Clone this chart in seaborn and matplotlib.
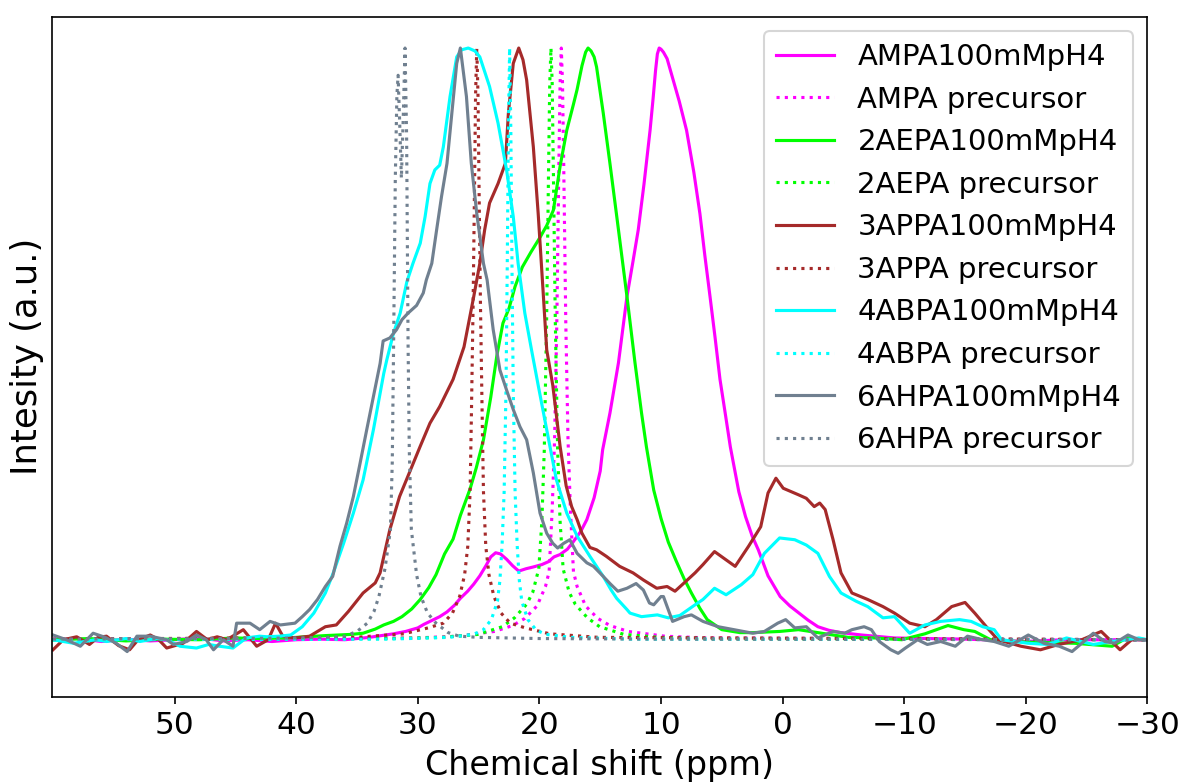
import matplotlib
matplotlib.use("Agg")
import matplotlib.pyplot as plt
import seaborn as sns
import pandas as pd

# ---------------- data (ppm, normalised intensity) ----------------
ampa_solid = [(60.0, 0.0), (58.0, 0.002), (56.0, -0.003), (54.0, 0.001), (52.0, -0.002), (50.0, 0.0),
              (48.0, 0.003), (46.0, -0.002), (44.0, 0.0), (42.0, -0.003), (40.0, 0.0), (38.0, 0.001),
              (36.0, 0.0), (35.0, 0.002), (34.0, 0.004), (33.0, 0.007), (32.0, 0.010), (31.0, 0.014),
              (30.0, 0.02), (29.5, 0.026), (28.9, 0.032), (28.2, 0.039), (27.6, 0.047), (27.0, 0.058),
              (26.5, 0.07), (25.9, 0.082), (25.4, 0.094), (24.9, 0.108), (24.4, 0.125), (24.0, 0.14),
              (23.6, 0.147), (23.2, 0.145), (22.7, 0.136), (22.2, 0.125), (21.7, 0.116), (21.1, 0.12),
              (20.5, 0.123), (19.8, 0.127), (19.25, 0.132), (18.8, 0.14), (18.3, 0.144), (17.7, 0.153),
              (17.2, 0.166), (16.6, 0.183), (16.1, 0.203), (15.5, 0.24), (15.0, 0.285), (14.8, 0.321),
              (14.2, 0.383), (13.5, 0.468), (12.8, 0.58), (12.3, 0.64), (11.87, 0.693), (11.4, 0.77),
              (10.9, 0.861), (10.65, 0.915), (10.45, 0.962), (10.3, 0.99), (10.15, 1.0), (10.0, 0.998),
              (9.8, 0.993), (9.5, 0.982), (9.0, 0.946), (8.5, 0.91), (7.9, 0.861), (7.3, 0.79),
              (6.8, 0.72), (6.4, 0.65), (5.97, 0.58), (5.55, 0.51), (5.15, 0.44), (4.7, 0.38),
              (4.3, 0.326), (3.6, 0.25), (3.05, 0.208), (2.5, 0.175), (2.0, 0.152), (1.2, 0.108),
              (0.2, 0.073), (-0.6, 0.057), (-1.35, 0.045), (-2.1, 0.033), (-2.9, 0.022), (-3.8, 0.016),
              (-4.8, 0.012), (-6.5, 0.008), (-9.2, 0.003), (-12.0, 0.002), (-15.0, 0.001),
              (-18.0, -0.001), (-20.0, -0.003), (-23.0, 0.0), (-26.0, 0.0), (-30.0, 0.0)]

ampa_prec = [(60.0, 0.001), (30.2, 0.003), (26.7, 0.006), (23.7, 0.014), (22.2, 0.024), (21.2, 0.036),
             (20.2, 0.057), (19.5, 0.09), (19.2, 0.115), (18.95, 0.22), (18.75, 0.34), (18.57, 0.535),
             (18.4, 0.8), (18.3, 0.94), (18.2, 1.0), (18.1, 0.94), (18.0, 0.8), (17.83, 0.535),
             (17.65, 0.34), (17.45, 0.22), (17.2, 0.115), (16.9, 0.09), (16.2, 0.057), (15.2, 0.036),
             (14.2, 0.024), (12.7, 0.014), (9.7, 0.006), (6.2, 0.003), (-30.0, 0.0)]

aepa_solid = [(60.0, 0.0), (57.0, 0.002), (54.0, -0.002), (51.0, 0.001), (48.0, 0.0), (45.0, 0.003),
              (43.0, 0.002), (40.8, 0.003), (37.6, 0.007), (35.5, 0.009), (34.5, 0.011), (33.5, 0.018),
              (32.8, 0.025), (32.0, 0.031), (31.3, 0.039), (30.5, 0.052), (29.8, 0.068), (29.1, 0.088),
              (28.5, 0.11), (27.8, 0.145), (27.1, 0.17), (26.5, 0.21), (25.7, 0.255), (25.2, 0.29),
              (24.6, 0.338), (24.0, 0.41), (23.5, 0.48), (23.0, 0.535), (22.5, 0.56), (22.0, 0.597),
              (21.4, 0.63), (20.7, 0.655), (19.95, 0.68), (19.4, 0.70), (18.85, 0.726), (18.6, 0.76),
              (18.3, 0.8), (17.75, 0.861), (17.2, 0.905), (16.9, 0.93), (16.5, 0.97), (16.2, 0.993),
              (16.0, 1.0), (15.75, 0.995), (15.5, 0.985), (15.3, 0.968), (14.75, 0.89), (14.2, 0.805),
              (13.5, 0.693), (12.8, 0.58), (12.14, 0.468), (11.6, 0.383), (11.2, 0.326), (10.6, 0.253),
              (10.0, 0.205), (9.4, 0.165), (8.75, 0.133), (8.1, 0.103), (7.5, 0.079), (6.8, 0.053),
              (6.2, 0.034), (5.0, 0.017), (3.5, 0.012), (2.45, 0.012), (0.25, 0.014), (-1.3, 0.017),
              (-2.9, 0.012), (-5.4, 0.004), (-7.6, 0.003), (-9.8, 0.0), (-11.7, 0.01), (-13.6, 0.024),
              (-14.9, 0.017), (-15.8, 0.014), (-17.1, 0.0), (-20.0, -0.004), (-24.0, -0.006),
              (-27.1, -0.011), (-28.3, 0.003), (-30.0, 0.0)]

aepa_prec = [(60.0, 0.0), (32.05, 0.002), (28.05, 0.004), (25.05, 0.009), (23.05, 0.022), (22.05, 0.037),
             (21.05, 0.06), (20.55, 0.08), (20.05, 0.12), (19.8, 0.2), (19.6, 0.32), (19.41, 0.535),
             (19.25, 0.79), (19.15, 0.94), (19.05, 1.0), (18.95, 0.94), (18.85, 0.79), (18.69, 0.535),
             (18.5, 0.32), (18.3, 0.2), (18.05, 0.12), (17.55, 0.08), (17.05, 0.06), (16.05, 0.037),
             (15.05, 0.022), (13.05, 0.009), (10.05, 0.004), (6.05, 0.002), (-30.0, 0.0)]

appa_solid = [(60.0, -0.017), (59.15, 0.0), (58.05, 0.005), (57.0, -0.008), (56.3, 0.004), (55.6, 0.006),
              (54.6, -0.01), (53.7, -0.017), (53.0, 0.0), (52.0, 0.008), (51.3, 0.0), (50.65, -0.014),
              (49.3, -0.006), (48.2, 0.014), (47.3, 0.0), (46.5, 0.005), (45.7, 0.0), (44.35, 0.017),
              (43.25, -0.011), (42.3, 0.0), (41.7, 0.028), (41.1, 0.006), (40.1, 0.003), (38.9, 0.006),
              (37.6, 0.022), (36.7, 0.025), (35.7, 0.048), (34.5, 0.079), (33.5, 0.096), (33.1, 0.113),
              (32.3, 0.186), (31.5, 0.242), (30.6, 0.287), (29.8, 0.327), (29.0, 0.366), (28.2, 0.394),
              (27.1, 0.44), (26.2, 0.495), (25.4, 0.58), (24.9, 0.636), (24.5, 0.693), (24.1, 0.738),
              (23.4, 0.771), (22.8, 0.805), (22.55, 0.89), (22.15, 0.974), (21.7, 1.0), (21.35, 0.98),
              (21.05, 0.946), (20.5, 0.833), (20.1, 0.72), (19.7, 0.59), (19.4, 0.49), (18.9, 0.43),
              (18.3, 0.327), (17.8, 0.26), (17.35, 0.225), (16.9, 0.203), (16.5, 0.18), (15.85, 0.156),
              (15.3, 0.152), (14.5, 0.141), (13.4, 0.124), (12.3, 0.113), (11.45, 0.101), (10.35, 0.087),
              (9.5, 0.09), (8.85, 0.082), (8.1, 0.096), (7.2, 0.113), (6.55, 0.127), (5.6, 0.149),
              (4.65, 0.135), (3.9, 0.124), (2.8, 0.158), (1.8, 0.191), (1.2, 0.248), (0.55, 0.273),
              (-0.05, 0.256), (-1.3, 0.245), (-1.95, 0.239), (-2.6, 0.225), (-3.05, 0.231), (-3.5, 0.22),
              (-4.15, 0.169), (-4.8, 0.113), (-5.7, 0.079), (-7.0, 0.068), (-8.25, 0.056), (-9.2, 0.045),
              (-10.45, 0.028), (-11.7, 0.022), (-12.65, 0.034), (-13.9, 0.056), (-15.0, 0.063),
              (-15.8, 0.045), (-16.75, 0.022), (-17.7, 0.0), (-19.6, -0.011), (-21.2, -0.017),
              (-22.7, -0.008), (-24.6, 0.0), (-26.2, 0.014), (-27.75, -0.017), (-28.7, 0.0), (-30.0, 0.0)]

appa_prec = [(60.0, 0.001), (35.15, 0.004), (31.15, 0.01), (29.15, 0.02), (27.9, 0.028), (27.15, 0.045),
             (26.56, 0.073), (26.15, 0.11), (25.89, 0.158), (25.7, 0.25), (25.6, 0.37), (25.45, 0.57),
             (25.35, 0.74), (25.25, 0.92), (25.15, 1.0), (25.05, 0.92), (24.95, 0.74), (24.85, 0.57),
             (24.7, 0.37), (24.6, 0.25), (24.41, 0.158), (24.15, 0.11), (23.74, 0.073), (23.15, 0.045),
             (22.4, 0.028), (21.15, 0.02), (19.15, 0.01), (15.15, 0.004), (-30.0, 0.0)]

abpa_solid = [(60.0, 0.0), (58.3, -0.006), (56.5, 0.0), (55.6, -0.003), (54.0, 0.002), (52.85, -0.003),
              (51.5, 0.002), (50.65, 0.0), (49.55, -0.011), (48.2, -0.014), (47.2, -0.008), (46.3, -0.011),
              (45.2, -0.014), (44.1, 0.003), (43.0, 0.006), (42.4, 0.005), (41.4, 0.006), (40.45, 0.008),
              (39.5, 0.022), (38.55, 0.045), (37.6, 0.079), (36.95, 0.113), (36.1, 0.163), (35.3, 0.214),
              (34.5, 0.27), (33.65, 0.355), (32.8, 0.45), (32.55, 0.473), (32.0, 0.518), (31.45, 0.552),
              (30.9, 0.605), (30.4, 0.636), (29.8, 0.67), (29.4, 0.715), (29.0, 0.771), (28.6, 0.794),
              (28.2, 0.802), (27.9, 0.833), (27.35, 0.918), (26.8, 0.985), (26.4, 0.997), (25.85, 1.0),
              (25.3, 0.995), (24.9, 0.985), (24.5, 0.96), (24.1, 0.935), (23.4, 0.873), (22.7, 0.794),
              (22.15, 0.715), (21.75, 0.636), (21.2, 0.552), (20.65, 0.49), (20.1, 0.43), (19.4, 0.355),
              (18.6, 0.27), (17.75, 0.214), (16.9, 0.175), (15.85, 0.141), (14.75, 0.107), (14.1, 0.084),
              (13.65, 0.07), (12.8, 0.051), (12.55, 0.045), (11.6, 0.039), (10.3, 0.042), (9.4, 0.037),
              (8.45, 0.041), (7.2, 0.059), (6.55, 0.068), (5.6, 0.087), (4.65, 0.076), (3.4, 0.093),
              (2.45, 0.11), (1.5, 0.146), (0.25, 0.172), (-1.0, 0.169), (-1.95, 0.16), (-2.9, 0.146),
              (-3.85, 0.107), (-4.8, 0.079), (-6.05, 0.065), (-7.0, 0.056), (-8.25, 0.037), (-9.2, 0.039),
              (-10.45, 0.011), (-11.7, 0.025), (-13.0, 0.031), (-14.55, 0.034), (-15.5, 0.031),
              (-16.45, 0.022), (-17.4, 0.017), (-18.0, 0.0), (-20.2, -0.006), (-21.8, -0.008),
              (-23.35, 0.003), (-25.55, -0.008), (-27.1, -0.003), (-29.3, 0.003), (-30.0, 0.0)]

abpa_prec = [(60.0, 0.0), (32.45, 0.001), (27.45, 0.004), (25.45, 0.009), (24.65, 0.016), (23.95, 0.034),
             (23.45, 0.065), (23.25, 0.1), (23.07, 0.16), (22.9, 0.25), (22.75, 0.42), (22.65, 0.62),
             (22.55, 0.86), (22.45, 1.0), (22.35, 0.86), (22.25, 0.62), (22.15, 0.42), (22.0, 0.25),
             (21.83, 0.16), (21.65, 0.1), (21.45, 0.065), (20.95, 0.034), (20.25, 0.016), (19.45, 0.009),
             (17.45, 0.004), (12.45, 0.001), (-30.0, 0.0)]

ahpa_solid = [(60.0, 0.008), (58.9, 0.0), (57.75, -0.011), (56.7, 0.011), (55.7, 0.004), (54.8, -0.006),
              (53.9, -0.02), (53.1, 0.006), (52.0, 0.006), (50.65, 0.0), (50.1, -0.008), (49.0, -0.003),
              (48.2, 0.008), (47.4, 0.0), (46.8, -0.017), (46.0, 0.0), (45.2, -0.011), (44.9, 0.028),
              (43.8, 0.028), (43.0, 0.017), (42.15, 0.031), (41.3, 0.025), (40.1, 0.028), (39.5, 0.039),
              (38.9, 0.051), (38.25, 0.068), (37.6, 0.09), (37.0, 0.107), (36.4, 0.158), (35.85, 0.197),
              (35.3, 0.242), (34.75, 0.298), (34.2, 0.355), (33.65, 0.411), (33.1, 0.467), (32.85, 0.505),
              (32.3, 0.51), (31.75, 0.524), (31.3, 0.541), (30.8, 0.552), (30.1, 0.565), (29.55, 0.586),
              (29.3, 0.608), (28.85, 0.636), (28.45, 0.693), (28.05, 0.749), (27.6, 0.805), (27.2, 0.89),
              (26.8, 0.974), (26.5, 1.0), (26.0, 0.918), (25.6, 0.805), (25.15, 0.72), (24.6, 0.636),
              (24.3, 0.608), (23.8, 0.524), (23.25, 0.456), (22.7, 0.422), (22.15, 0.389), (21.6, 0.36),
              (21.05, 0.338), (20.5, 0.282), (19.95, 0.214), (19.4, 0.18), (18.9, 0.163), (18.5, 0.155),
              (18.0, 0.163), (17.5, 0.169), (16.9, 0.146), (16.1, 0.13), (15.55, 0.124), (14.75, 0.107),
              (14.2, 0.095), (13.55, 0.082), (12.8, 0.087), (12.05, 0.095), (11.45, 0.084), (10.95, 0.062),
              (10.6, 0.059), (10.0, 0.073), (9.8, 0.073), (9.05, 0.031), (8.1, 0.039), (7.5, 0.042),
              (6.55, 0.031), (5.3, 0.022), (4.0, 0.017), (2.45, 0.011), (1.5, 0.014), (0.4, 0.028),
              (-0.25, 0.034), (-1.0, 0.02), (-1.95, 0.022), (-2.9, 0.003), (-4.15, 0.014), (-5.1, 0.011),
              (-5.7, 0.017), (-6.7, 0.022), (-7.3, 0.017), (-7.95, -0.003), (-8.9, -0.017), (-9.5, -0.023),
              (-10.1, -0.014), (-11.1, 0.0), (-11.9, -0.008), (-13.0, -0.003), (-14.2, -0.011),
              (-15.2, 0.006), (-16.45, 0.0), (-17.4, -0.003), (-18.6, -0.011), (-20.2, 0.008),
              (-21.5, -0.006), (-22.75, -0.011), (-23.8, -0.02), (-24.6, -0.006), (-25.55, 0.011),
              (-26.5, -0.003), (-27.3, -0.006), (-28.4, 0.008), (-29.3, 0.0), (-30.0, 0.0)]

ahpa_prec = [(60.0, 0.001), (45.0, 0.002), (40.0, 0.003), (37.5, 0.004), (36.0, 0.006), (35.0, 0.014),
             (34.15, 0.028), (33.6, 0.048), (33.2, 0.073), (32.7, 0.12), (32.25, 0.186), (32.1, 0.3),
             (32.0, 0.48), (31.85, 0.78), (31.72, 0.92), (31.62, 0.954), (31.5, 0.88), (31.35, 0.78),
             (31.2, 0.88), (31.05, 1.0), (30.92, 0.85), (30.8, 0.5), (30.7, 0.32), (30.53, 0.186),
             (30.1, 0.11), (29.74, 0.073), (29.2, 0.045), (28.5, 0.028), (27.5, 0.012), (26.6, 0.006),
             (25.0, 0.004), (20.0, 0.002), (10.0, 0.001), (-30.0, 0.0)]

series_labels = ["AMPA100mMpH4", "AMPA precursor", "2AEPA100mMpH4", "2AEPA precursor",
                 "3APPA100mMpH4", "3APPA precursor", "4ABPA100mMpH4", "4ABPA precursor",
                 "6AHPA100mMpH4", "6AHPA precursor"]
series_data = [ampa_solid, ampa_prec, aepa_solid, aepa_prec, appa_solid, appa_prec,
               abpa_solid, abpa_prec, ahpa_solid, ahpa_prec]
series_colors = ["#ff00ff", "#ff00ff", "#00ff00", "#00ff00", "#a52a2a", "#a52a2a",
                 "#00ffff", "#00ffff", "#708090", "#708090"]
series_styles = ["-", ":", "-", ":", "-", ":", "-", ":", "-", ":"]

x_ticks = [50, 40, 30, 20, 10, 0, -10, -20, -30]

# ---------------- figure ----------------
fig = plt.figure(figsize=(7.9, 5.22), dpi=150)
ax = fig.add_axes([0.0441, 0.1102, 0.9242, 0.8685])

for lab, pts, col, ls in zip(series_labels, series_data, series_colors, series_styles):
    df = pd.DataFrame(pts, columns=["ppm", "intensity"])
    sns.lineplot(data=df, x="ppm", y="intensity", color=col, linestyle=ls,
                 linewidth=1.5, label=lab, ax=ax, sort=False, estimator=None)

ax.set_xlim(60.06, -30.0)
ax.set_ylim(-0.0963, 1.053)
ax.set_xticks(x_ticks)
ax.set_yticks([])
ax.tick_params(axis="x", labelsize=15)
ax.set_xlabel("Chemical shift (ppm)", fontsize=16)
ax.set_ylabel("Intesity (a.u.)", fontsize=17)
ax.legend(loc="upper right", fontsize=14)

fig.savefig("out.png", dpi=150)
